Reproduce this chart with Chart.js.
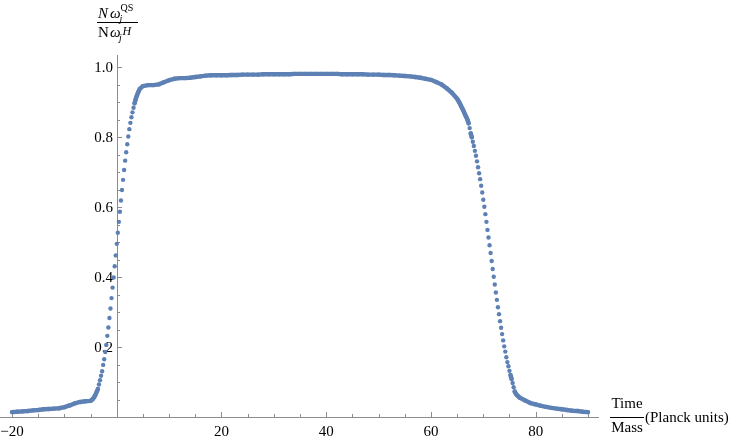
<!DOCTYPE html>
<html>
<head>
<meta charset="utf-8">
<script src="https://cdn.jsdelivr.net/npm/chart.js@4/dist/chart.umd.min.js"></script>
<style>
  html, body { margin: 0; padding: 0; background: #fff; }
  canvas { display: block; }
</style>
</head>
<body>
<canvas id="c" width="730" height="436"></canvas>
<script>
const lowRatio = [0.014, 0.015, 0.016, 0.017, 0.019, 0.020, 0.022, 0.023, 0.024, 0.025,
  0.028, 0.033, 0.039, 0.043, 0.045, 0.046];                       // t = -20 .. -5, step 1
const riseRatio = [0.049, 0.051, 0.055, 0.060, 0.066, 0.073, 0.080, 0.093, 0.105, 0.118,
  0.131, 0.149, 0.165, 0.186, 0.206, 0.232, 0.256, 0.283, 0.310, 0.340,
  0.370, 0.399, 0.431, 0.462, 0.495, 0.527, 0.558, 0.587, 0.619, 0.649,
  0.678, 0.706, 0.733, 0.757, 0.780, 0.802, 0.823, 0.841, 0.857, 0.871,
  0.884, 0.897, 0.908, 0.917, 0.925, 0.932, 0.938];                 // t = -4.8 .. 4.4, step 0.2
const plateauRatio = [0.946, 0.949, 0.949, 0.951, 0.957, 0.963, 0.967, 0.969, 0.969, 0.970,
  0.972, 0.974, 0.976, 0.977, 0.977, 0.977, 0.977, 0.978, 0.978, 0.979,
  0.979, 0.979, 0.979, 0.980, 0.980, 0.980, 0.980, 0.980, 0.980, 0.981,
  0.981, 0.981, 0.981, 0.981, 0.981, 0.981, 0.981, 0.981, 0.980, 0.980,
  0.980, 0.980, 0.980, 0.979, 0.979, 0.979, 0.978, 0.978, 0.977, 0.976,
  0.975, 0.974, 0.972, 0.970, 0.967, 0.964, 0.958, 0.951, 0.940, 0.927,
  0.910];                                                            // t = 5 .. 65, step 1
const fallRatio = [0.905, 0.900, 0.894, 0.888, 0.882, 0.876, 0.869, 0.862, 0.856, 0.849,
  0.840, 0.826, 0.811, 0.800, 0.787, 0.775, 0.761, 0.747, 0.731, 0.714,
  0.697, 0.680, 0.661, 0.642, 0.621, 0.601, 0.580, 0.558, 0.535, 0.513,
  0.491, 0.469, 0.446, 0.423, 0.401, 0.379, 0.356, 0.335, 0.314, 0.294,
  0.274, 0.255, 0.237, 0.219, 0.202, 0.187, 0.171, 0.157, 0.145, 0.132,
  0.120, 0.109, 0.097, 0.085, 0.073, 0.067, 0.063, 0.060];          // t = 65.2 .. 76.6, step 0.2
const tailRatio = [0.055, 0.047, 0.040, 0.036, 0.032, 0.029, 0.026, 0.024, 0.022, 0.020,
  0.018, 0.017, 0.015, 0.014];                                      // t = 77 .. 90, step 1

const pieces = [[-20, 1, lowRatio], [-4.8, 0.2, riseRatio], [5, 1, plateauRatio],
  [65.2, 0.2, fallRatio], [77, 1, tailRatio]];

const xMajor = [-20, 20, 40, 60, 80];
const xLabels = ['\u221220', '20', '40', '60', '80'];
const yMajor = [0.2, 0.4, 0.6, 0.8, 1.0];
const yLabels = ['0.2', '0.4', '0.6', '0.8', '1.0'];

const blue = '#5e81b5';
const axisGray = '#8c8c8c';
const serif = '"Liberation Serif", "Times New Roman", serif';

const pts = [];
pieces.forEach(([start, step, vals]) => {
  vals.forEach((v, i) => pts.push({ x: Math.round((start + i * step) * 10) / 10, y: v }));
});

// axes crossing at the origin, ticks pointing inwards (Mathematica style)
const axesPlugin = {
  id: 'axes',
  beforeDatasetsDraw(chart) {
    const { ctx, chartArea: a, scales: { x, y } } = chart;
    const x0 = Math.round(x.getPixelForValue(0)), y0 = Math.round(y.getPixelForValue(0));
    ctx.save();
    ctx.strokeStyle = axisGray;
    ctx.lineWidth = 1;
    ctx.beginPath();
    ctx.moveTo(a.left, y0 + 0.5); ctx.lineTo(a.right, y0 + 0.5);
    ctx.moveTo(x0 + 0.5, a.bottom); ctx.lineTo(x0 + 0.5, a.top);
    for (let t = -20; t <= 90; t += 5) {
      if (t === 0) continue;
      const px = Math.round(x.getPixelForValue(t)) + 0.5;
      const len = t % 20 === 0 ? 5 : 3;
      ctx.moveTo(px, y0); ctx.lineTo(px, y0 - len);
    }
    for (let k = 1; k <= 20; k++) {
      const py = Math.round(y.getPixelForValue(k * 0.05)) + 0.5;
      const len = k % 4 === 0 ? 5 : 3;
      ctx.moveTo(x0, py); ctx.lineTo(x0 + len, py);
    }
    ctx.stroke();

    ctx.fillStyle = '#000';
    ctx.font = '15px ' + serif;
    ctx.textAlign = 'center';
    ctx.textBaseline = 'alphabetic';
    xMajor.forEach((t, i) => ctx.fillText(xLabels[i], x.getPixelForValue(t), y0 + 18.5));
    ctx.textAlign = 'right';
    yMajor.forEach((v, i) => ctx.fillText(yLabels[i], x0 - 4, y.getPixelForValue(v) + 5));
    ctx.restore();
  },
  afterDraw(chart) {
    const { ctx, scales: { x, y } } = chart;
    const x0 = Math.round(x.getPixelForValue(0)), y0 = Math.round(y.getPixelForValue(0));
    ctx.save();
    ctx.fillStyle = '#000';
    ctx.strokeStyle = '#000';
    ctx.textAlign = 'left';
    ctx.textBaseline = 'alphabetic';
    const put = (s, font, px, py) => { ctx.font = font + ' ' + serif; ctx.fillText(s, px, py); };

    // y label: N w_j^QS over N w_j^H
    put('N', 'italic 15px', x0 - 19, 18);
    put('\u03c9', 'italic 15px', x0 - 7, 18);
    put('j', 'italic 10px', x0 + 2.5, 22);
    put('QS', '10px', x0 + 3.5, 11);
    ctx.lineWidth = 1;
    ctx.beginPath();
    ctx.moveTo(x0 - 20, 22.5); ctx.lineTo(x0 + 21, 22.5);
    ctx.stroke();
    put('N', '15px', x0 - 19, 37);
    put('\u03c9', 'italic 15px', x0 - 7, 37);
    put('j', 'italic 10px', x0 + 2, 41);
    put('H', 'italic 12px', x0 + 5.5, 35);

    // x label: Time/Mass (Planck units)
    ctx.textAlign = 'center';
    put('Time', '15px', 627, y0 - 9);
    put('Mass', '15px', 627, y0 + 15);
    ctx.beginPath();
    ctx.moveTo(610, y0 + 0.5); ctx.lineTo(644, y0 + 0.5);
    ctx.stroke();
    ctx.textAlign = 'left';
    put('(Planck units)', '15px', 645, y0 + 5);
    ctx.restore();
  }
};

new Chart(document.getElementById('c'), {
  type: 'scatter',
  data: {
    datasets: [{
      data: pts,
      showLine: true,
      borderColor: blue,
      borderWidth: 4.4,
      borderCapStyle: 'round',
      borderJoinStyle: 'round',
      pointRadius: 2.2,
      pointBorderWidth: 0,
      pointBackgroundColor: blue,
      segment: {
        borderColor: (c) => {
          const a = pts[c.p0DataIndex], b = pts[c.p1DataIndex];
          const d = Math.hypot(c.p1.x - c.p0.x, c.p1.y - c.p0.y);
          return (b.x - a.x > 0.3 || d < 4) ? blue : 'rgba(0,0,0,0)';
        }
      }
    }]
  },
  options: {
    responsive: false,
    animation: false,
    devicePixelRatio: 1,
    layout: { autoPadding: false, padding: { left: 0, right: 131, top: 55, bottom: 19 } },
    plugins: { legend: { display: false }, tooltip: { enabled: false } },
    scales: {
      x: { type: 'linear', min: -22.3, max: 92.1, display: false },
      y: { type: 'linear', min: 0, max: 1.035, display: false }
    }
  },
  plugins: [axesPlugin]
});
</script>
</body>
</html>
